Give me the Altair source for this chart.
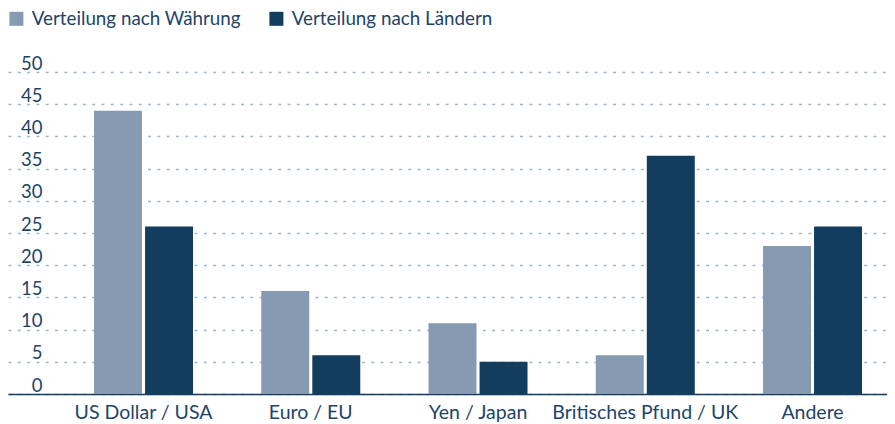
import altair as alt
import pandas as pd

categories = ["US Dollar / USA", "Euro / EU", "Yen / Japan", "Britisches Pfund / UK", "Andere"]
series = ["Verteilung nach Währung", "Verteilung nach Ländern"]
waehrung = [44, 16, 11, 6, 23]
laender = [26, 6, 5, 37, 26]
y_ticks = [0, 5, 10, 15, 20, 25, 30, 35, 40, 45, 50]

rows = []
for c, a, b in zip(categories, waehrung, laender):
    rows.append({"kategorie": c, "serie": series[0], "wert": a})
    rows.append({"kategorie": c, "serie": series[1], "wert": b})
df = pd.DataFrame(rows)

FONT = "Lato"
TEXT = "#1d4468"
LIGHT = "#869bb2"
DARK = "#123d5e"

chart = alt.Chart(df).mark_bar().encode(
    x=alt.X("kategorie:N", sort=categories, title=None,
            scale=alt.Scale(paddingInner=0.408, paddingOuter=0.3318, align=0.775),
            axis=alt.Axis(labelAngle=0, ticks=False, domain=True, domainColor=DARK,
                          domainWidth=1.5, labelFontSize=19.5, labelFont=FONT,
                          labelColor=TEXT, labelPadding=9, labelLimit=0)),
    xOffset=alt.XOffset("serie:N", sort=series,
                        scale=alt.Scale(paddingInner=0.06, paddingOuter=0)),
    y=alt.Y("wert:Q", title=None, scale=alt.Scale(domain=[0, 50], nice=False),
            axis=alt.Axis(values=y_ticks, grid=True, gridDash=[3, 6.3], gridColor="#a3b6cc",
                          gridWidth=1.5, domain=False, ticks=False, tickSize=0,
                          labelAlign="right", labelBaseline="alphabetic",
                          labelPadding=-34, labelOffset=-3, labelFontSize=18.5,
                          labelFont=FONT, labelColor=TEXT)),
    color=alt.Color("serie:N", sort=series,
                    scale=alt.Scale(domain=series, range=[LIGHT, DARK]),
                    legend=alt.Legend(title=None, orient="none", legendX=-1, legendY=-63,
                                      direction="horizontal", columns=2,
                                      symbolType="square", symbolSize=196,
                                      symbolStrokeWidth=0, labelFontSize=18.8,
                                      labelFont=FONT, labelColor=TEXT, labelOffset=6,
                                      labelLimit=0, columnPadding=26)),
).properties(
    width=879, height=322,
    autosize=alt.AutoSizeParams(type="none"),
    padding={"left": 0, "top": 64, "right": 0, "bottom": 30},
).configure_view(stroke=None)

chart.save("out.html", embed_options={"renderer": "svg", "actions": False})
